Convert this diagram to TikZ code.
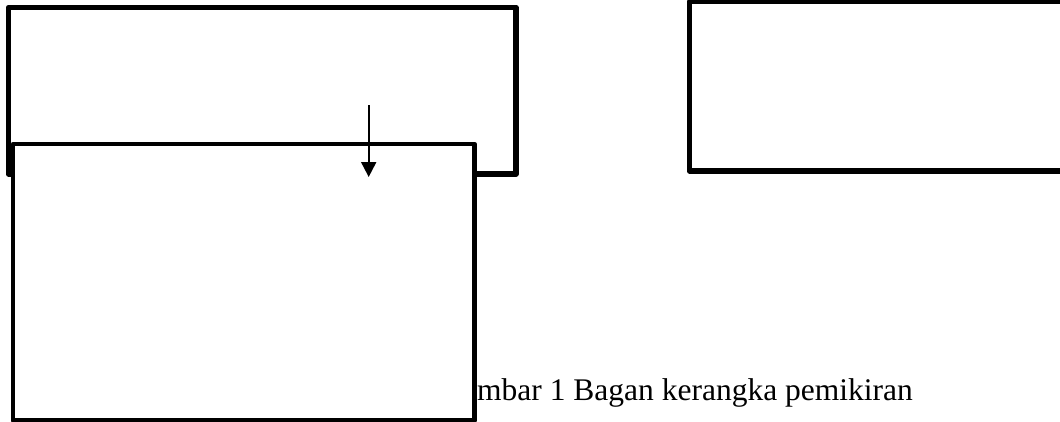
\documentclass[tikz,border=0pt]{standalone}
\usepackage{fontspec}
\setmainfont{Liberation Serif}
\usetikzlibrary{arrows.meta}
\begin{document}
\begin{tikzpicture}[x=1pt,y=-1pt,
  frame/.style={draw=black,fill=white,line join=round,inner sep=0pt,outer sep=0pt,rectangle,anchor=north west},
  link/.style={draw=black,line width=2pt,-{Triangle[length=15pt,width=15pt]}},
  caption/.style={font=\fontsize{31.5}{36}\selectfont,inner sep=0pt,anchor=base west}]
\useasboundingbox (0,0) rectangle (1060,421);
\clip (0,0) rectangle (1060,421);
\node[frame,line width=5.5pt,minimum width=507.5pt,minimum height=166.5pt] (boxA) at (8.5,7.5) {};
\node[frame,line width=5.5pt,minimum width=400pt,minimum height=169.5pt] (boxB) at (689.5,1.5) {};
\node[caption] (cap) at (477,400) {mbar 1 Bagan kerangka pemikiran};
\node[frame,line width=4.5pt,minimum width=461.5pt,minimum height=276.5pt] (boxC) at (13,144) {};
\coordinate (a1) at (368.7,105);
\coordinate (a2) at (368.7,177);
\draw[link] (a1) -- (a2);
\end{tikzpicture}
\end{document}
